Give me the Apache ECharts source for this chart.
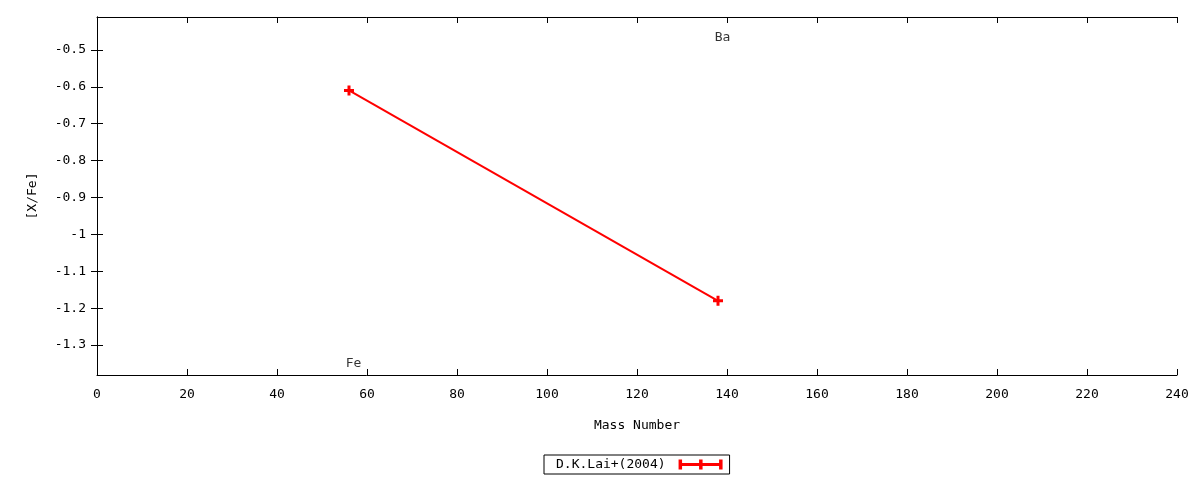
<!DOCTYPE html>
<html><head><meta charset="utf-8">
<script src="https://cdn.jsdelivr.net/npm/echarts@6/dist/echarts.min.js"></script>
<style>html,body{margin:0;padding:0;background:#fff}#c{width:1200px;height:480px}</style>
</head><body><div id="c"></div>
<script>
var seriesName = 'D.K.Lai+(2004)';
var elements = ['Fe', 'Ba'];
var massNumbers = [56, 138];
var xFeValues = [-0.61, -1.18];
var labelY = [-1.349, -0.4675];
var labelX = [57, 139];
var yTicks = [-1.3, -1.2, -1.1, -1, -0.9, -0.8, -0.7, -0.6, -0.5];

var FONT = 'DejaVu Sans Mono';
var FS = 13;
var plus = 'path://M3.5,0 H6.5 V3.5 H10 V6.5 H6.5 V10 H3.5 V6.5 H0 V3.5 H3.5 Z';
var legendIcon = 'path://M0,0 H3.5 V3.5 H20.5 V0 H24 V3.5 H40.5 V0 H44 V10 H40.5 V6.5 H24 V10 H20.5 V6.5 H3.5 V10 H0 Z';

var chart = echarts.init(document.getElementById('c'), null, {renderer:'canvas'});
var axisLine = {show:true, lineStyle:{color:'#000', width:1}};
var tick = {show:true, inside:true, length:6, lineStyle:{color:'#000'}};
var lbl = {fontFamily:FONT, fontSize:FS, color:'#000'};
var yMin = -1.381, yMax = -0.411;
chart.setOption({
  animation:false,
  backgroundColor:'#fff',
  grid:{left:97, right:23, top:17, bottom:105, containLabel:false},
  xAxis:[
    {type:'value', min:0, max:240, interval:20, position:'bottom',
     name:'Mass Number', nameLocation:'middle', nameGap:44, nameTextStyle:lbl,
     axisLine:axisLine, axisTick:tick, splitLine:{show:false},
     axisLabel:Object.assign({margin:13}, lbl)},
    {type:'value', min:0, max:240, interval:20, position:'top',
     axisLine:axisLine, axisTick:tick, splitLine:{show:false}, axisLabel:{show:false}}
  ],
  yAxis:[
    {type:'value', min:yMin, max:yMax, position:'left',
     name:'[X/Fe]', nameLocation:'middle', nameGap:58, nameRotate:90, nameTextStyle:lbl,
     axisLine:axisLine, splitLine:{show:false},
     axisLabel:Object.assign({margin:11, customValues:yTicks,
        formatter:function(v){return String(Math.round(v*10)/10);}}, lbl),
     axisTick:Object.assign({customValues:yTicks}, tick)},
    {type:'value', min:yMin, max:yMax, position:'right',
     axisLine:axisLine, splitLine:{show:false}, axisLabel:{show:false},
     axisTick:Object.assign({customValues:yTicks}, tick)}
  ],
  legend:{
    top:455, left:544, align:'right', orient:'horizontal',
    borderColor:'#000', borderWidth:1, borderRadius:0, padding:[3,7,3,12],
    itemWidth:44, itemHeight:10, itemGap:8,
    textStyle:{fontFamily:FONT, fontSize:FS, color:'#000', padding:[0,8,0,0]},
    data:[{name:seriesName, icon:legendIcon, itemStyle:{color:'#ff0000'}}]
  },
  series:[
    {name:seriesName, type:'line',
     data:massNumbers.map(function(m,i){return [m, xFeValues[i]];}),
     lineStyle:{color:'#ff0000', width:2},
     itemStyle:{color:'#ff0000'},
     symbol:plus, symbolSize:10, showSymbol:true},
    {name:'labels', type:'scatter', symbolSize:0,
     data:elements.map(function(e,i){return {value:[labelX[i], labelY[i]], name:e};}),
     label:{show:true, position:'inside', formatter:function(p){return p.name;},
            fontFamily:FONT, fontSize:FS, color:'#000'},
     silent:true, tooltip:{show:false}}
  ]
});
</script></body></html>
